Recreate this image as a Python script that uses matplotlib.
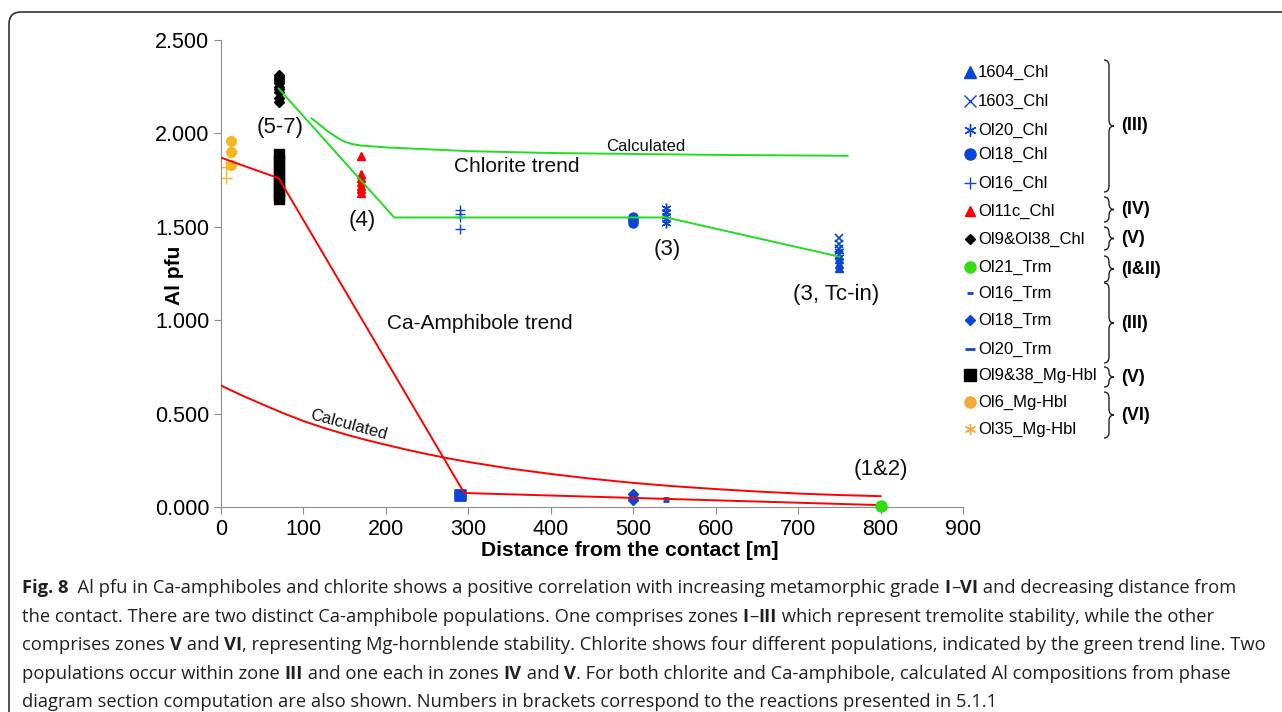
import matplotlib
matplotlib.use('Agg')
import matplotlib.pyplot as plt
from matplotlib.path import Path
from matplotlib.patches import PathPatch, FancyBboxPatch
import numpy as np

plt.rcParams['font.family'] = ['Liberation Sans', 'DejaVu Sans']

# ---- data (distance in m, Al pfu) ----
chl_1604_x = [750, 750, 750]
chl_1604_y = [1.33, 1.30, 1.28]
chl_1603_x = [750, 750, 750, 750]
chl_1603_y = [1.44, 1.41, 1.38, 1.35]
chl_ol20_x = [540, 540, 540, 540, 540, 750, 750]
chl_ol20_y = [1.60, 1.58, 1.56, 1.54, 1.52, 1.37, 1.34]
chl_ol18_x = [500, 500, 500, 500]
chl_ol18_y = [1.55, 1.54, 1.53, 1.52]
chl_ol16_x = [290, 290, 290, 290]
chl_ol16_y = [1.59, 1.57, 1.55, 1.49]
chl_ol11c_x = [170] * 7
chl_ol11c_y = [1.88, 1.78, 1.76, 1.74, 1.72, 1.70, 1.68]
chl_ol9_x = [70] * 10
chl_ol9_y = [2.31, 2.30, 2.29, 2.28, 2.27, 2.25, 2.24, 2.22, 2.19, 2.17]
trm_ol21_x = [800]
trm_ol21_y = [0.005]
trm_ol16_x = [540, 540]
trm_ol16_y = [0.05, 0.03]
trm_ol18_x = [500, 500, 500]
trm_ol18_y = [0.07, 0.05, 0.04]
trm_ol20_x = [290] * 11
trm_ol20_y = [0.09, 0.085, 0.08, 0.075, 0.07, 0.065, 0.06, 0.055, 0.05, 0.045, 0.04]
hbl_ol9_x = [70] * 10
hbl_ol9_y = [1.89, 1.86, 1.83, 1.80, 1.77, 1.74, 1.72, 1.69, 1.67, 1.65]
hbl_ol6_x = [12, 12, 12]
hbl_ol6_y = [1.96, 1.90, 1.83]
hbl_ol35_x = [6, 6]
hbl_ol35_y = [1.82, 1.76]

chl_trend_x = [70, 210, 540, 750]
chl_trend_y = [2.24, 1.55, 1.55, 1.34]
chl_calc_x = [110, 120, 130, 140, 150, 160, 170, 185, 200, 250, 300, 400, 500, 600, 700, 760]
chl_calc_y = [2.08, 2.045, 2.01, 1.98, 1.955, 1.942, 1.935, 1.93, 1.925, 1.915, 1.905, 1.895, 1.89, 1.885, 1.882, 1.88]
amp_trend_x = [0, 70, 295, 800]
amp_trend_y = [1.87, 1.76, 0.075, 0.01]
amp_calc_x = [0, 25, 50, 75, 100, 125, 150, 175, 200, 225, 250, 275, 300, 350, 400,
              450, 500, 550, 600, 650, 700, 750, 800]
amp_calc_y = [0.65, 0.598, 0.55, 0.503, 0.46, 0.423, 0.39, 0.36, 0.333, 0.307, 0.283,
              0.261, 0.241, 0.206, 0.177, 0.151, 0.129, 0.111, 0.096, 0.083, 0.072, 0.064, 0.058]

BLUE = '#0a45d6'
RED = '#ff0000'
GREEN = '#22dd22'
ORANGE = '#f7a83a'
GOLD = '#f9b820'

fig = plt.figure(figsize=(12.82, 7.12), dpi=100)
ax = fig.add_axes([221 / 1282, 1 - 507 / 712, 742 / 1282, 467 / 712])

# trend lines
ax.plot(chl_trend_x, chl_trend_y, color=GREEN, lw=1.4, zorder=3)
ax.plot(chl_calc_x, chl_calc_y, color=GREEN, lw=1.4, zorder=3)
ax.plot(amp_trend_x, amp_trend_y, color=RED, lw=1.4, zorder=3)
ax.plot(amp_calc_x, amp_calc_y, color=RED, lw=1.4, zorder=3)

# points
ax.plot(hbl_ol9_x, hbl_ol9_y, 's', color='black', ms=7.5, ls='none', zorder=2)
ax.plot(chl_ol9_x, chl_ol9_y, 'D', color='black', ms=5.5, ls='none', zorder=2)
ax.plot(chl_ol11c_x, chl_ol11c_y, '^', color=RED, ms=6, ls='none', zorder=2)
ax.plot(chl_ol16_x, chl_ol16_y, '+', color=BLUE, ms=7, mew=1, ls='none', zorder=2)
ax.plot(chl_ol18_x, chl_ol18_y, 'o', color=BLUE, ms=6.5, ls='none', zorder=2)
ax.plot(chl_ol20_x, chl_ol20_y, marker=(6, 2, 0), color=BLUE, ms=7, mew=1, ls='none', zorder=2)
ax.plot(chl_1603_x, chl_1603_y, 'x', color=BLUE, ms=6, mew=1.2, ls='none', zorder=2)
ax.plot(chl_1604_x, chl_1604_y, '^', color=BLUE, ms=6, ls='none', zorder=2)
ax.plot(trm_ol20_x, trm_ol20_y, '_', color=BLUE, ms=9, mew=2, ls='none', zorder=2)
ax.plot(trm_ol18_x, trm_ol18_y, 'D', color=BLUE, ms=5, ls='none', zorder=2)
ax.plot(trm_ol16_x, trm_ol16_y, '_', color=BLUE, ms=5, mew=2, ls='none', zorder=2)
ax.plot(trm_ol21_x, trm_ol21_y, 'o', color='#33dd11', ms=8, ls='none', zorder=4, clip_on=False)
ax.plot(hbl_ol6_x, hbl_ol6_y, 'o', color=GOLD, ms=7, ls='none', zorder=2)
ax.plot(hbl_ol35_x, hbl_ol35_y, '+', color=GOLD, ms=8, mew=1, ls='none', zorder=2)

# annotations
tf = dict(ha='center', va='center', color='#111111')
ax.text(72, 2.03, '(5-7)', fontsize=16, **tf)
ax.text(171, 1.535, '(4)', fontsize=16, **tf)
ax.text(359, 1.825, 'Chlorite trend', fontsize=15, **tf)
ax.text(515, 1.93, 'Calculated', fontsize=12, **tf)
ax.text(541, 1.38, '(3)', fontsize=16, **tf)
ax.text(746, 1.14, '(3, Tc-in)', fontsize=16, **tf)
ax.text(314, 0.985, 'Ca-Amphibole trend', fontsize=15, **tf)
ax.text(155, 0.44, 'Calculated', fontsize=12, rotation=-15, **tf)
ax.text(800, 0.203, '(1&2)', fontsize=16, **tf)

ax.set_xlim(0, 900)
ax.set_ylim(0, 2.5)
ax.set_xticks(np.arange(0, 901, 100))
ax.set_yticks(np.arange(0, 2.51, 0.5))
ax.set_yticklabels(['%.3f' % v for v in np.arange(0, 2.51, 0.5)])
for s in ['top', 'right']:
    ax.spines[s].set_visible(False)
for s in ['left', 'bottom']:
    ax.spines[s].set_color('#8c8c8c')
ax.tick_params(colors='#8c8c8c', labelcolor='black', labelsize=15.5, length=5)
ax.set_facecolor('none')

# overlay in pixel coords for legend, braces, labels, frame and caption
ov = fig.add_axes([0, 0, 1, 1], zorder=-1)
ov.set_xlim(0, 1282)
ov.set_ylim(712, 0)
ov.axis('off')
ov.set_facecolor('none')

ov.text(175, 275, 'Al pfu', rotation=90, fontsize=15, fontweight='bold', ha='center', va='center')
ov.text(630, 551, 'Distance from the contact [m]', fontsize=15.2, fontweight='bold',
        ha='center', va='center')

legend_items = [
    ('1604_Chl', 72, dict(marker='^', color=BLUE, ms=8)),
    ('1603_Chl', 101, dict(marker='x', color=BLUE, ms=8, mew=1)),
    ('Ol20_Chl', 130, dict(marker=(6, 2, 0), color=BLUE, ms=9, mew=1)),
    ('Ol18_Chl', 154, dict(marker='o', color=BLUE, ms=8)),
    ('Ol16_Chl', 183, dict(marker='+', color=BLUE, ms=9, mew=1)),
    ('Ol11c_Chl', 211, dict(marker='^', color=RED, ms=7)),
    ('Ol9&Ol38_Chl', 239, dict(marker='D', color='black', ms=5)),
    ('Ol21_Trm', 267, dict(marker='o', color='#33dd11', ms=8)),
    ('Ol16_Trm', 293, dict(marker='_', color=BLUE, ms=4, mew=2)),
    ('Ol18_Trm', 320, dict(marker='D', color=BLUE, ms=5.5)),
    ('Ol20_Trm', 349, dict(marker='_', color=BLUE, ms=7, mew=2)),
    ('Ol9&38_Mg-Hbl', 375, dict(marker='s', color='black', ms=8)),
    ('Ol6_Mg-Hbl', 402, dict(marker='o', color=ORANGE, ms=8)),
    ('Ol35_Mg-Hbl', 429, dict(marker=(6, 2, 0), color=ORANGE, ms=8, mew=1)),
]
for name, y, mk in legend_items:
    ov.plot([970], [y], ls='none', **mk)
    ov.text(978, y, name, fontsize=12, ha='left', va='center')

braces = [(60, 192, '(III)'), (197, 222, '(IV)'), (227, 250, '(V)'), (256, 282, '(I&II)'),
          (283, 363, '(III)'), (367, 387, '(V)'), (392, 438, '(VI)')]


def brace(y0, y1, x0=1104, w=10):
    ym = (y0 + y1) / 2
    r = min(6, (y1 - y0) / 4)
    xm = x0 + w / 2
    verts = [(x0, y0), (xm, y0), (xm, y0 + r),
             (xm, ym - r), (xm, ym), (x0 + w, ym),
             (xm, ym), (xm, ym + r),
             (xm, y1 - r), (xm, y1), (x0, y1)]
    codes = [Path.MOVETO, Path.CURVE3, Path.CURVE3,
             Path.LINETO, Path.CURVE3, Path.CURVE3,
             Path.CURVE3, Path.CURVE3,
             Path.LINETO, Path.CURVE3, Path.CURVE3]
    ov.add_patch(PathPatch(Path(verts, codes), fill=False, lw=1, ec='#222222'))


for y0, y1, lab in braces:
    brace(y0, y1)
    ov.text(1121, (y0 + y1) / 2, lab, fontsize=13, fontweight='bold', ha='left', va='center')

# frame
ov.add_patch(FancyBboxPatch((9, 12), 1400, 800, boxstyle='round,pad=0,rounding_size=12',
                            fill=False, lw=1.2, ec='#333333'))

# caption with mixed bold segments
caption = [
    [('Fig. 8', True), ('  Al pfu in Ca-amphiboles and chlorite shows a positive correlation with increasing metamorphic grade ', False),
     ('I', True), ('\u2013', False), ('VI', True), (' and decreasing distance from', False)],
    [('the contact. There are two distinct Ca-amphibole populations. One comprises zones ', False), ('I', True),
     ('\u2013', False), ('III', True), (' which represent tremolite stability, while the other', False)],
    [('comprises zones ', False), ('V', True), (' and ', False), ('VI', True),
     (', representing Mg-hornblende stability. Chlorite shows four different populations, indicated by the green trend line. Two', False)],
    [('populations occur within zone ', False), ('III', True), (' and one each in zones ', False), ('IV', True),
     (' and ', False), ('V', True), ('. For both chlorite and Ca-amphibole, calculated Al compositions from phase', False)],
    [('diagram section computation are also shown. Numbers in brackets correspond to the reactions presented in 5.1.1', False)],
]
renderer = fig.canvas.get_renderer()
cap_font = ['Open Sans', 'DejaVu Sans']
cap_y = [588, 617, 645, 674, 702]
for line, y in zip(caption, cap_y):
    x = 22
    for seg, bold in line:
        t = ov.text(x, y, seg, fontsize=13.2, family=cap_font, fontweight='bold' if bold else 'normal',
                    ha='left', va='center', color='#231f20')
        x += t.get_window_extent(renderer).width

fig.savefig('out.png', dpi=100)
